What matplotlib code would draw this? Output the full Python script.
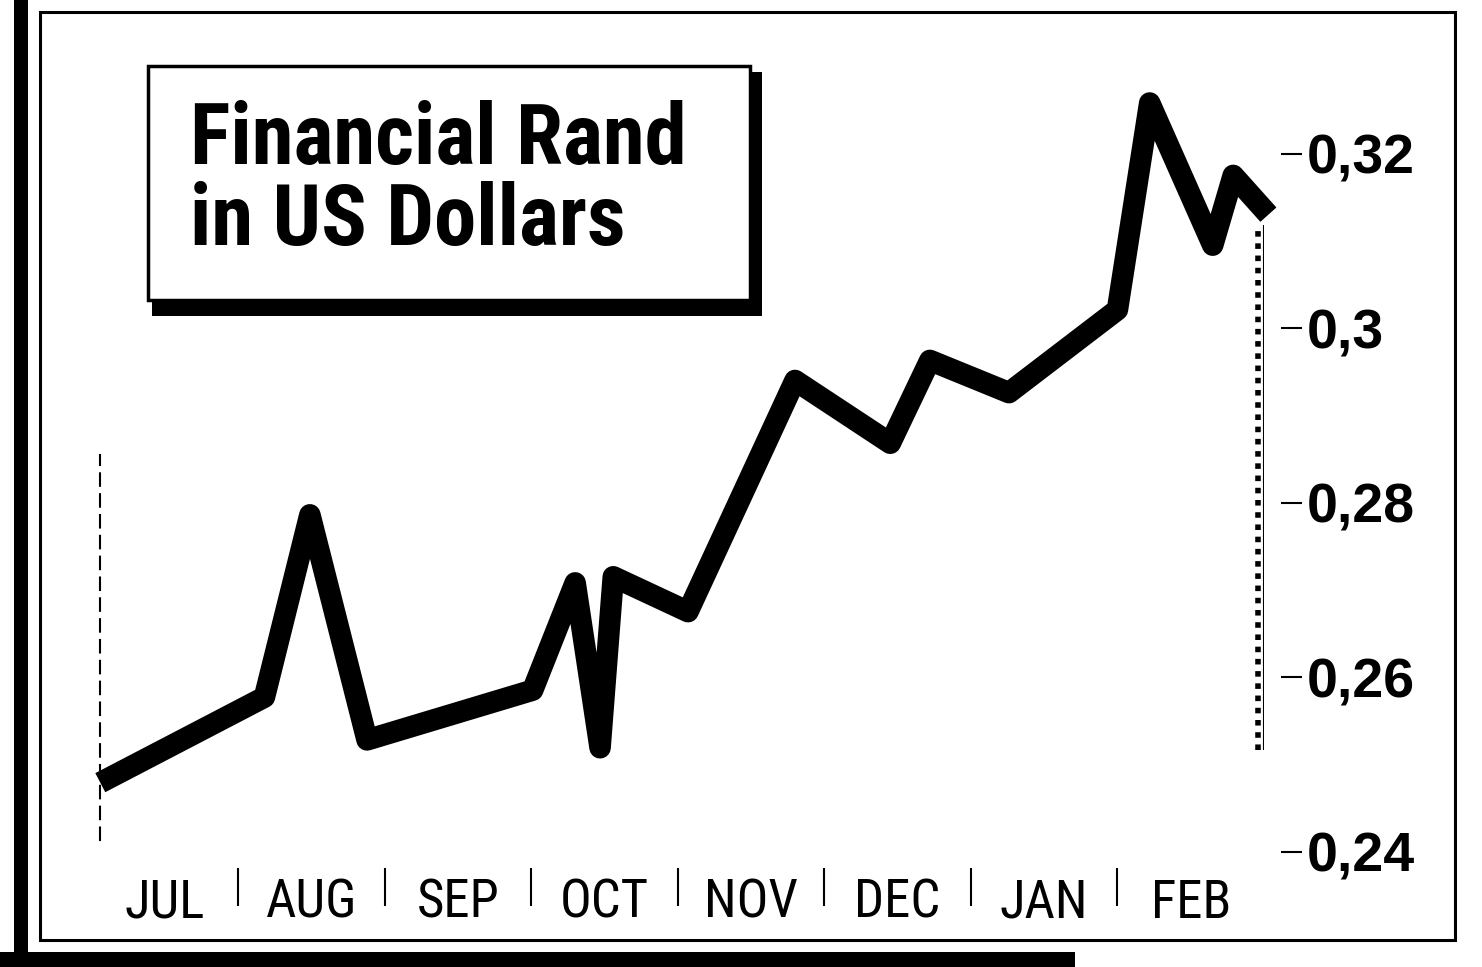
import matplotlib
matplotlib.use("Agg")
import matplotlib.pyplot as plt
from matplotlib import font_manager
from matplotlib.patches import Rectangle
from matplotlib.ticker import FixedLocator, FixedFormatter, NullFormatter

# months counted from the start of July
months = ["JUL", "AUG", "SEP", "OCT", "NOV", "DEC", "JAN", "FEB"]
t = [0.06, 1.18, 1.49, 1.88, 3.01, 3.30, 3.47, 3.56, 4.07, 4.80,
     5.45, 5.72, 6.26, 7.00, 7.22, 7.65, 7.79, 8.03]
rand_usd = [0.2479, 0.2577, 0.2786, 0.2528, 0.2585, 0.2708, 0.2519, 0.2715,
            0.2675, 0.2940, 0.2868, 0.2963, 0.2926, 0.3021, 0.3258, 0.3095,
            0.3175, 0.3130]
yticks = [0.24, 0.26, 0.28, 0.30, 0.32]
ylabels = ["0,24", "0,26", "0,28", "0,3", "0,32"]

names = {f.name for f in font_manager.fontManager.ttflist}

def pick(*cands):
    for c in cands:
        if c in names:
            return c
    return "DejaVu Sans"

narrow = pick("Roboto Condensed", "Encode Sans Condensed", "Fira Sans Condensed")
bold = pick("Liberation Sans", "Arimo")

W, H = 1482, 967
fig = plt.figure(figsize=(W / 100, H / 100), dpi=100, facecolor="white")

def fx(px):
    return px / W

def fy(py):
    return 1 - py / H

ax = fig.add_axes([fx(91.5), fy(868), fx(1264) - fx(91.5), fy(22.7) - fy(868)])
ax.set_xlim(0, 8)
ax.set_ylim(0.23812, 0.335)
ax.patch.set_alpha(0)

ax.plot(t, rand_usd, color="black", lw=15.5, solid_joinstyle="round",
        solid_capstyle="butt", clip_on=False, zorder=3)

# dotted divider at the end of February
ax.vlines(8, 0.2516, 0.3118, color="black", lw=1.5)
ax.vlines(7.96, 0.2516, 0.3118, color="black", lw=4, linestyles=(0, (1, 1.2)))

for s in ["top", "bottom"]:
    ax.spines[s].set_visible(False)
ax.spines["left"].set_position(("data", 0.058))
ax.spines["left"].set_bounds(0.2413, 0.2855)
ax.spines["left"].set_linestyle((0, (6, 4)))
ax.spines["left"].set_linewidth(1.5)
ax.spines["right"].set_position(("outward", 12))
ax.spines["right"].set_visible(False)

ax.yaxis.tick_right()
ax.set_yticks(yticks)
ax.set_yticklabels(ylabels, fontfamily=bold, fontweight="bold", fontsize=40)
ax.tick_params(axis="y", which="both", left=False, right=True, direction="out",
               length=15, width=1.5, pad=4)

ax.xaxis.set_major_locator(FixedLocator([i + 0.5 for i in range(len(months))]))
ax.xaxis.set_major_formatter(FixedFormatter(months))
ax.xaxis.set_minor_locator(FixedLocator(range(1, 8)))
ax.xaxis.set_minor_formatter(NullFormatter())
ax.tick_params(axis="x", which="major", length=0, pad=7)
ax.tick_params(axis="x", which="minor", length=27, width=1.5, direction="out")
for lab in ax.get_xticklabels():
    lab.set_fontfamily(narrow)
    lab.set_fontsize(38)

# title box with heavy shadow
fig.patches.append(Rectangle((fx(152), fy(316)), fx(762) - fx(152), fy(298) - fy(316),
                             transform=fig.transFigure, color="black", lw=0))
fig.patches.append(Rectangle((fx(748), fy(316)), fx(762) - fx(748), fy(72) - fy(316),
                             transform=fig.transFigure, color="black", lw=0))
fig.patches.append(Rectangle((fx(148), fy(300)), fx(750) - fx(148), fy(66) - fy(300),
                             transform=fig.transFigure, facecolor="white",
                             edgecolor="black", lw=2.5))
fig.text(fx(190), fy(100), "Financial Rand\nin US Dollars", fontfamily=narrow,
         fontweight="bold", fontsize=61, va="top", ha="left", linespacing=1.0)

# outer frame and page edges
fig.patches.append(Rectangle((fx(40), fy(940)), fx(1455) - fx(40), fy(12) - fy(940),
                             transform=fig.transFigure, fill=False,
                             edgecolor="black", lw=2.2))
fig.patches.append(Rectangle((0, fy(967)), fx(1075), fy(952) - fy(967),
                             transform=fig.transFigure, color="black", lw=0))
fig.patches.append(Rectangle((fx(14), 0), fx(28) - fx(14), 1,
                             transform=fig.transFigure, color="black", lw=0))

fig.savefig("out.png", dpi=100, facecolor="white")
